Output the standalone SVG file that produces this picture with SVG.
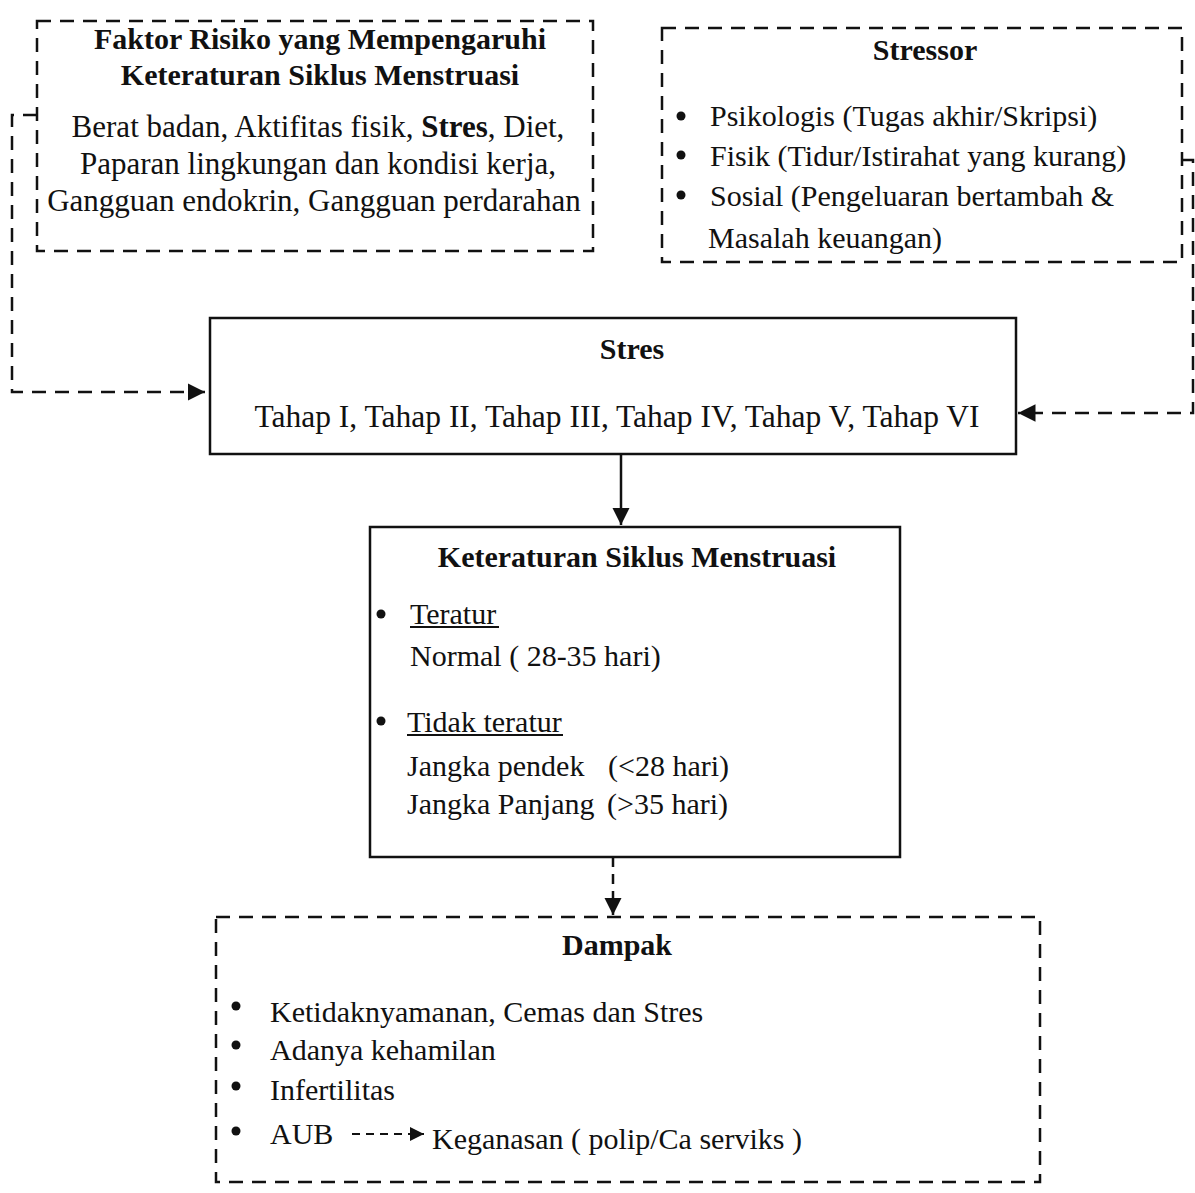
<svg xmlns="http://www.w3.org/2000/svg" width="1195" height="1193" viewBox="0 0 1195 1193">
<defs>
<style>
text{font-family:"Liberation Serif","Times New Roman",serif;fill:#111;}
.t{font-size:30px;}
.b{font-size:30px;font-weight:bold;}
.m{text-anchor:middle;}
.dash{fill:none;stroke:#111;stroke-width:2.5;stroke-dasharray:14 9;}
.solid{fill:none;stroke:#111;stroke-width:2.5;}
.conn{fill:none;stroke:#111;stroke-width:2.5;}
circle{fill:#111;}
</style>
<marker id="ah" viewBox="0 0 10 10" refX="10" refY="5" markerWidth="7" markerHeight="7" orient="auto" markerUnits="strokeWidth">
<path d="M0,0 L10,5 L0,10 z" fill="#111"/>
</marker>
</defs>
<rect width="1195" height="1193" fill="#fff"/>

<g id="faktor">
<rect class="dash" x="37" y="21" width="556" height="230"/>
<text class="b m" x="320" y="49">Faktor Risiko yang Mempengaruhi</text>
<text class="b m" x="320" y="85">Keteraturan Siklus Menstruasi</text>
<text class="t m" x="318" y="137" style="font-size:31px">Berat badan, Aktifitas fisik, <tspan font-weight="bold">Stres</tspan>, Diet,</text>
<text class="t m" x="318" y="174" style="font-size:31px">Paparan lingkungan dan kondisi kerja,</text>
<text class="t m" x="314" y="211" style="font-size:31px">Gangguan endokrin, Gangguan perdarahan</text>
</g>

<g id="stressor">
<rect class="dash" x="662" y="28" width="520" height="234"/>
<text class="b m" x="925" y="60">Stressor</text>
<circle cx="681" cy="116" r="4.5"/>
<circle cx="681" cy="155" r="4.5"/>
<circle cx="681" cy="195" r="4.5"/>
<text class="t" x="710" y="126">Psikologis (Tugas akhir/Skripsi)</text>
<text class="t" x="710" y="166">Fisik (Tidur/Istirahat yang kurang)</text>
<text class="t" x="710" y="206">Sosial (Pengeluaran bertambah &amp;</text>
<text class="t" x="708" y="248">Masalah keuangan)</text>
</g>

<g id="stres">
<rect class="solid" x="210" y="318" width="806" height="136"/>
<text class="b m" x="632" y="359">Stres</text>
<text class="t m" x="617" y="427" style="font-size:31.5px">Tahap I, Tahap II, Tahap III, Tahap IV, Tahap V, Tahap VI</text>
</g>

<g id="keteraturan">
<rect class="solid" x="370" y="527" width="530" height="330"/>
<text class="b m" x="637" y="567">Keteraturan Siklus Menstruasi</text>
<circle cx="381" cy="614" r="4.5"/>
<text class="t" x="410" y="624">Teratur</text>
<line x1="410" y1="627" x2="499" y2="627" stroke="#111" stroke-width="1.8"/>
<text class="t" x="410" y="666">Normal ( 28-35 hari)</text>
<circle cx="381" cy="721" r="4.5"/>
<text class="t" x="407" y="732">Tidak teratur</text>
<line x1="407" y1="735" x2="563" y2="735" stroke="#111" stroke-width="1.8"/>
<text class="t" x="407" y="776">Jangka pendek</text>
<text class="t" x="608" y="776">(&lt;28 hari)</text>
<text class="t" x="407" y="814">Jangka Panjang</text>
<text class="t" x="607" y="814">(&gt;35 hari)</text>
</g>

<g id="dampak">
<rect class="dash" x="216" y="917" width="824" height="265"/>
<text class="b m" x="617" y="955">Dampak</text>
<circle cx="236" cy="1006" r="4.5"/>
<circle cx="236" cy="1045" r="4.5"/>
<circle cx="236" cy="1086" r="4.5"/>
<circle cx="236" cy="1131" r="4.5"/>
<text class="t" x="270" y="1022">Ketidaknyamanan, Cemas dan Stres</text>
<text class="t" x="270" y="1060">Adanya kehamilan</text>
<text class="t" x="270" y="1100">Infertilitas</text>
<text class="t" x="270" y="1144">AUB</text>
<text class="t" x="432" y="1149">Keganasan ( polip/Ca serviks )</text>
<line x1="352" y1="1134" x2="424" y2="1134" stroke="#111" stroke-width="2" stroke-dasharray="8 6" marker-end="url(#ah)"/>
</g>

<g id="connectors">
<polyline class="conn" stroke-dasharray="14 9" points="37,115 12,115 12,392 205,392" marker-end="url(#ah)"/>
<polyline class="conn" stroke-dasharray="14 9" points="1182,160 1193,160 1193,413 1018,413" marker-end="url(#ah)"/>
<line class="conn" x1="621" y1="454" x2="621" y2="525" marker-end="url(#ah)"/>
<line class="conn" stroke-dasharray="10 7" x1="613" y1="857" x2="613" y2="915" marker-end="url(#ah)"/>
</g>
</svg>
